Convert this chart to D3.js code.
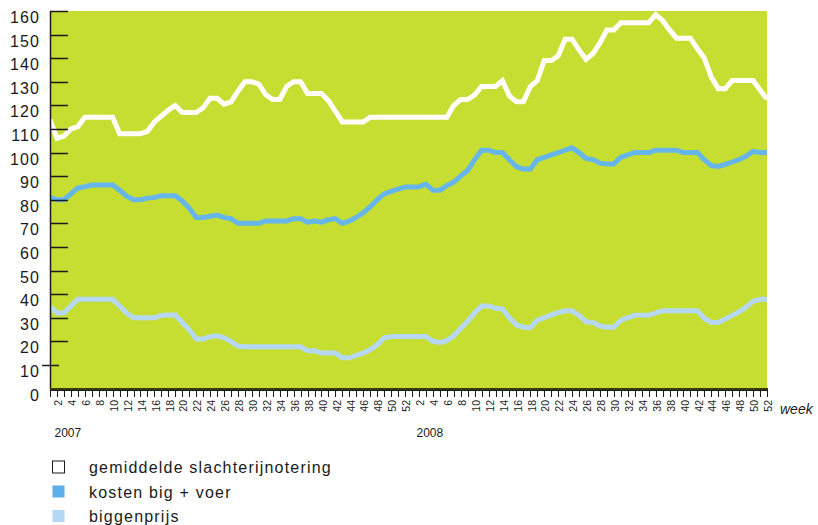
<!DOCTYPE html>
<html>
<head>
<meta charset="utf-8">
<script src="https://cdn.jsdelivr.net/npm/d3@7/dist/d3.min.js"></script>
<style>
  html, body { margin: 0; padding: 0; background: #ffffff; }
  svg { display: block; font-family: "Liberation Sans", Arial, Helvetica, sans-serif; }
</style>
</head>
<body>
<svg id="chart" width="818" height="525"></svg>
<script>
// Weekly pig prices (euro), 2007 week 1 through 2008 week 52
const years = ["2007", "2008"];
const weeksPerYear = 52;

// gemiddelde slachterijnotering
const slachterij = [
  114, 106, 107, 110, 111, 115, 115, 115, 115, 115,
  108, 108, 108, 108, 109, 113, 115.5, 118, 120, 117,
  117, 117, 119, 123, 123, 120.5, 121.5, 126, 130, 130,
  129, 124.5, 122.5, 122.5, 128, 130, 130, 125, 125, 125,
  122, 117.5, 113, 113, 113, 113, 115, 115, 115, 115,
  115, 115, 115, 115, 115, 115, 115, 115, 120, 122.5,
  122.5, 124.5, 128, 128, 128, 130.5, 124, 121.5, 121.5, 128,
  130.5, 139, 139, 141, 148, 148, 143.5, 139.5, 142, 146.5,
  152, 152, 155, 155, 155, 155, 155, 158.5, 156, 152,
  148.5, 148.5, 148.5, 144, 140, 132, 127, 127, 130.5, 130.5,
  130.5, 130.5, 126.5, 122.7
];

// kosten big + voer
const kosten = [
  81, 80, 80, 82.5, 85, 85.5, 86.3, 86.3, 86.3, 86.3,
  84, 81.5, 80, 80, 80.7, 81, 81.7, 81.7, 81.7, 79.5,
  76.5, 72.5, 72.5, 73, 73.5, 72.5, 72, 70, 70, 70,
  70, 71, 71, 71, 71, 72, 72, 70.5, 71, 70.5,
  71.5, 72, 70, 71, 72.5, 74.5, 77, 80, 82.5, 83.5,
  84.5, 85.4, 85.4, 85.5, 86.6, 84, 84, 86, 87.5, 90,
  92.5, 97, 101, 101, 100, 100, 97, 94, 93, 93,
  97, 98, 99, 100, 101, 102, 100, 97.5, 97, 95.5,
  95.2, 95.2, 98, 99, 100, 100, 100, 101, 101, 101,
  101, 100, 100, 100, 97, 94.5, 94.1, 95, 96, 97,
  98.5, 100.5, 100, 100
];

// biggenprijs
const biggenprijs = [
  34.7, 32, 32, 35, 37.8, 37.8, 37.8, 37.8, 37.8, 37.8,
  35, 32, 30, 30, 30, 30, 31, 31.2, 31.2, 28,
  25, 21, 21, 22, 22.3, 21.5, 20, 18, 17.7, 17.7,
  17.7, 17.7, 17.7, 17.7, 17.7, 17.7, 17.7, 16, 16, 15,
  15, 15, 13, 13, 14, 15, 16.5, 18.5, 21.5, 22,
  22, 22, 22, 22, 22, 20, 19.5, 20.3, 22.3, 25.5,
  28.5, 32, 35, 35, 34, 33.7, 30, 27, 26, 25.8,
  29, 30, 31.2, 32.2, 33, 33, 31, 28.3, 28, 26.5,
  26, 26, 29, 30, 31, 31, 31, 32, 33, 33,
  33, 33, 33, 33, 29.7, 28, 28, 29.5, 31, 32.5,
  34.5, 37, 37.8, 37.8
];

const yTicks = [0, 10, 20, 30, 40, 50, 60, 70, 80, 90, 100, 110, 120, 130, 140, 150, 160];
const legendLabels = ["gemiddelde slachterijnotering", "kosten big + voer", "biggenprijs"];

const colors = {
  plot: "#c6dd32",
  slachterij: "#ffffff",
  kosten: "#66b6ec",
  biggen: "#b6d8f4",
  ink: "#1a1a1a"
};

// one category per week, keyed by year and week number
const weekKeys = [];
years.forEach(y => { for (let w = 1; w <= weeksPerYear; w++) weekKeys.push(y + "-" + w); });

const svg = d3.select("#chart");
const plot = { left: 50, right: 767, top: 11, bottom: 388.5 };

const x = d3.scalePoint().domain(weekKeys).range([plot.left, plot.right]);
const y = d3.scaleLinear().domain([0, 160]).range([plot.bottom, plot.top]);

// plot background
svg.append("rect")
  .attr("x", plot.left).attr("y", plot.top)
  .attr("width", plot.right - plot.left).attr("height", plot.bottom - plot.top)
  .attr("fill", colors.plot);

svg.append("clipPath").attr("id", "plotClip")
  .append("rect")
  .attr("x", plot.left).attr("y", plot.top)
  .attr("width", plot.right - plot.left).attr("height", plot.bottom - plot.top);

// series lines
const line = d3.line().x((d, i) => x(weekKeys[i])).y(d => y(d));
const series = [
  { values: slachterij, color: colors.slachterij },
  { values: kosten, color: colors.kosten },
  { values: biggenprijs, color: colors.biggen }
];
const lines = svg.append("g").attr("clip-path", "url(#plotClip)");
series.forEach(s => {
  lines.append("path")
    .datum(s.values)
    .attr("d", line)
    .attr("fill", "none")
    .attr("stroke", s.color)
    .attr("stroke-width", 5)
    .attr("stroke-linejoin", "miter");
});

// y axis: ticks drawn inward, labels sitting just below their tick
const yAxis = svg.append("g");
yAxis.append("line")
  .attr("x1", plot.left + 0.5).attr("x2", plot.left + 0.5)
  .attr("y1", plot.top).attr("y2", plot.bottom + 1)
  .attr("stroke", colors.ink).attr("stroke-width", 1.5);
yTicks.forEach(t => {
  if (t === 0) return;
  const ty = Math.round(y(t)) + 0.5;
  const outward = t === 10;
  yAxis.append("line")
    .attr("x1", outward ? plot.left - 8 : plot.left)
    .attr("x2", outward ? plot.left + 9 : plot.left + 18)
    .attr("y1", ty).attr("y2", ty)
    .attr("stroke", colors.ink).attr("stroke-width", 1.5);
});
yAxis.selectAll("text.ylab")
  .data(yTicks)
  .join("text")
  .attr("class", "ylab")
  .attr("x", 40)
  .attr("y", d => y(d) + 12)
  .attr("text-anchor", "end")
  .attr("font-size", 16)
  .attr("letter-spacing", 1.1)
  .attr("fill", colors.ink)
  .text(d => d);

// x axis: baseline, one tick per week, even weeks labelled vertically
const xAxis = svg.append("g");
xAxis.append("line")
  .attr("x1", plot.left).attr("x2", plot.right + 1)
  .attr("y1", plot.bottom + 0.5).attr("y2", plot.bottom + 0.5)
  .attr("stroke", "#3a3a10").attr("stroke-width", 2);
xAxis.append("line")
  .attr("x1", plot.left).attr("x2", plot.right + 1)
  .attr("y1", 390.5).attr("y2", 390.5)
  .attr("stroke", colors.ink).attr("stroke-width", 1);
xAxis.selectAll("line.tick")
  .data(weekKeys)
  .join("line")
  .attr("class", "tick")
  .attr("x1", d => Math.round(x(d)) + 0.5).attr("x2", d => Math.round(x(d)) + 0.5)
  .attr("y1", 390).attr("y2", 397)
  .attr("stroke", colors.ink).attr("stroke-width", 1);
xAxis.selectAll("text.xlab")
  .data(weekKeys.filter(k => +k.split("-")[1] % 2 === 0))
  .join("text")
  .attr("class", "xlab")
  .attr("transform", d => `translate(${x(d) + 1.5},400) rotate(-90)`)
  .attr("text-anchor", "end")
  .attr("dy", "0.35em")
  .attr("font-size", 10.5)
  .attr("fill", colors.ink)
  .text(d => d.split("-")[1]);

xAxis.append("text")
  .attr("x", 780).attr("y", 414)
  .attr("font-size", 14)
  .attr("font-style", "italic")
  .attr("fill", colors.ink)
  .text("week");

xAxis.selectAll("text.year")
  .data(years)
  .join("text")
  .attr("class", "year")
  .attr("x", d => x(d + "-1") + 4.5)
  .attr("y", 437)
  .attr("font-size", 12)
  .attr("fill", colors.ink)
  .text(d => d);

// legend
const legendItems = [
  { label: legendLabels[0], fill: "#ffffff", stroke: colors.ink },
  { label: legendLabels[1], fill: "#5caee8", stroke: "none" },
  { label: legendLabels[2], fill: "#b4d7f4", stroke: "none" }
];
const legend = svg.append("g");
legendItems.forEach((item, i) => {
  const cy = 467 + i * 24.5;
  legend.append("rect")
    .attr("x", 52.5).attr("y", cy - 6)
    .attr("width", 12).attr("height", 12)
    .attr("fill", item.fill)
    .attr("stroke", item.stroke)
    .attr("stroke-width", 1);
  legend.append("text")
    .attr("x", 89).attr("y", cy + 6)
    .attr("font-size", 16)
    .attr("letter-spacing", 1.2)
    .attr("fill", colors.ink)
    .text(item.label);
});
</script>
</body>
</html>
